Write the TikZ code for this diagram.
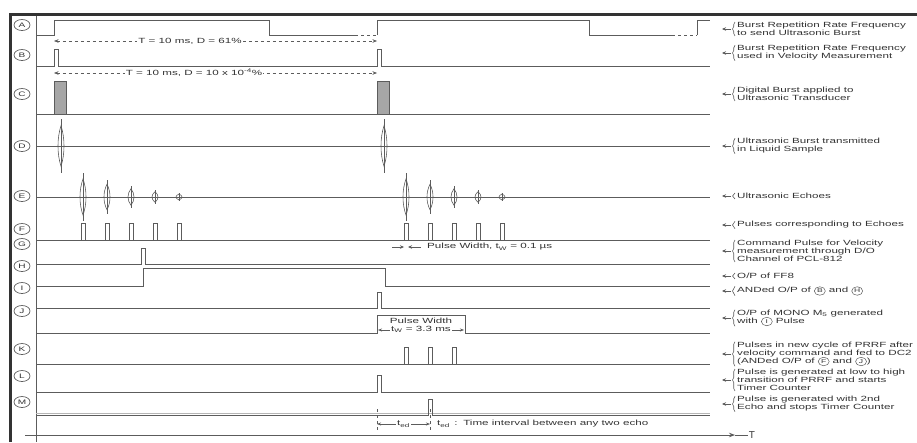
\documentclass[tikz,border=0pt]{standalone}
\usepackage{fontspec}
\setmainfont{Liberation Sans}
\newfontfamily\lblfont[FakeStretch=1.55]{Liberation Sans}
\usetikzlibrary{arrows.meta,decorations.pathreplacing,calc,shapes.geometric}
\definecolor{sigcol}{gray}{0.36}
\definecolor{txtcol}{gray}{0.2}
\tikzset{
  sig/.style={draw=sigcol, line width=0.8pt},
  thinsig/.style={draw=sigcol, line width=0.6pt},
  dimline/.style={draw=sigcol, line width=0.5pt, dashed, {Stealth[length=4.5pt,width=3.5pt]}-{Stealth[length=4.5pt,width=3.5pt]}},
  dimsolid/.style={draw=sigcol, line width=0.5pt, {Stealth[length=4pt,width=3pt]}-{Stealth[length=4pt,width=3pt]}},
  lbl/.style={font=\lblfont\fontsize{7.5}{8}\selectfont, text=txtcol, align=left, inner sep=1pt},
  intext/.style={font=\lblfont\fontsize{7.5}{8}\selectfont, text=txtcol, inner sep=1pt},
  rowlbl/.style={draw=sigcol, ellipse, line width=0.7pt, inner sep=0pt, minimum width=16pt, minimum height=11pt,
     font=\lblfont\fontsize{6.5}{6.5}\selectfont, text=txtcol},
  brc/.style={draw=sigcol, line width=0.6pt, decorate, decoration={brace, amplitude=2.5pt}},
  larr/.style={draw=sigcol, line width=0.6pt, -{Stealth[length=4pt,width=3.5pt]}}
}
\newcommand\cir[1]{\tikz[baseline=(cc.base)]\node[draw=sigcol, ellipse, line width=0.5pt, inner sep=0pt, minimum width=11pt, minimum height=8.5pt, font=\lblfont\fontsize{5.5}{5.5}\selectfont](cc){#1};}
\newcommand\burst[3]{%
  \draw[thinsig, line width=1pt] (#1,#2-#3) -- (#1,#2+#3);
  \draw[thinsig] (#1,#2-0.75*#3) .. controls (#1+4,#2-0.3*#3) and (#1+4,#2+0.3*#3) .. (#1,#2+0.75*#3)
     .. controls (#1-4,#2+0.3*#3) and (#1-4,#2-0.3*#3) .. cycle;
  \draw[thinsig] (#1-4,#2) -- (#1+4,#2);
}
\newcommand\rlabel[3]{%
  \node[lbl, anchor=west] (#1) at (736,#2) {#3};
  \draw[brc] ([xshift=-1pt,yshift=1pt]#1.south west) -- ([xshift=-1pt,yshift=-1pt]#1.north west);
  \draw[larr] ([xshift=-5pt]#1.west) -- ++(-9,0);
}
\begin{document}
\begin{tikzpicture}[x=1pt,y=-1pt]
\useasboundingbox (0,0) rectangle (917,442);
% frame
\draw[line width=3pt, black!80] (10,442) -- (10,14) -- (917,14);
\draw[sigcol, line width=0.6pt] (36,16) -- (36,442);
% row labels
\foreach \l/\yy in {A/25,B/55,C/94,D/146,E/196,F/229,G/244,H/266,I/288,J/311,K/349,L/376,M/402}
  \node[rowlbl] (r\l) at (22,\yy) {\l};
% A
\draw[sig] (36,35) -- (54,35) -- (54,20) -- (269,20) -- (269,35) -- (355,35);
\draw[sig, dashed] (355,35) -- (377,35);
\draw[sig] (377,35) -- (377,20) -- (589,20) -- (589,35) -- (672,35);
\draw[sig, dashed] (672,35) -- (697,35);
\draw[sig] (697,35) -- (697,20) -- (710,20);
\coordinate (d1a) at (54,41); \coordinate (d1b) at (377,41);
\draw[dimline] (d1a) -- (d1b);
\node[intext, fill=white] (t1) at (190,41) {T = 10 ms, D = 61\%};
% B
\draw[sig] (36,66) -- (54,66) -- (54,49) -- (58,49) -- (58,66) -- (377,66) -- (377,49) -- (381,49) -- (381,66) -- (710,66);
\coordinate (d2a) at (54,73); \coordinate (d2b) at (377,73);
\draw[dimline] (d2a) -- (d2b);
\node[intext, fill=white] (t2) at (194,73) {T = 10 ms, D = 10 x 10\textsuperscript{-4}\%};
% C
\draw[sig] (36,114) -- (710,114);
\filldraw[fill=gray!70, draw=sigcol, line width=0.6pt] (54,81) rectangle (66,114);
\filldraw[fill=gray!70, draw=sigcol, line width=0.6pt] (377,81) rectangle (389,114);
% D
\draw[sig] (36,146) -- (710,146);
\burst{61}{146}{27}
\burst{384}{146}{27}
% E
\draw[sig] (36,197) -- (710,197);
\foreach \xx/\hh in {83/24,107/17,131/11,155/7,179/4}{
  \burst{\xx}{197}{\hh}
  \burst{\xx+323}{197}{\hh}
}
% F
\draw[sig] (36,240) -- (710,240);
\foreach \xx in {83,107,131,155,179,406,430,454,478,502}
  \draw[sig] (\xx-2,240) -- (\xx-2,223) -- (\xx+2,223) -- (\xx+2,240);
\coordinate (pwa) at (392,247); \coordinate (pwb) at (421,247);
\draw[larr] (pwa) -- (404,247);
\draw[larr] (pwb) -- (408,247);
\node[intext, anchor=west] (pwt) at (426,247) {Pulse Width, t\textsubscript{W} = 0.1 µs};
% G
\draw[sig] (36,264) -- (141,264) -- (141,248) -- (145,248) -- (145,264) -- (710,264);
% H
\draw[sig] (36,286) -- (143,286) -- (143,268) -- (385,268) -- (385,286) -- (710,286);
% I
\draw[sig] (36,308) -- (377,308) -- (377,292) -- (381,292) -- (381,308) -- (710,308);
% J
\draw[sig] (36,333) -- (377,333) -- (377,315) -- (465,315) -- (465,333) -- (710,333);
\coordinate (jwa) at (378,330); \coordinate (jwb) at (464,330);
\draw[dimsolid] (jwa) -- (jwb);
\node[intext] (jw1) at (421,320.5) {Pulse Width};
\node[intext, fill=white] (jw2) at (421,329.5) {t\textsubscript{W} = 3.3 ms};
% K
\draw[sig] (36,364) -- (404,364);
\foreach \xx in {406,430,454}
  \draw[sig] (\xx-2,364) -- (\xx-2,347) -- (\xx+2,347) -- (\xx+2,364);
\draw[sig] (404,364) -- (710,364);
% L
\draw[sig] (36,392) -- (377,392) -- (377,375) -- (381,375) -- (381,392) -- (710,392);
% M
\draw[sigcol!45, line width=0.6pt] (36,413) -- (710,413);
\draw[sig] (36,415) -- (428,415) -- (428,399) -- (432,399) -- (432,415) -- (710,415);
% t_ed annotation
\coordinate (ea) at (377,424); \coordinate (eb) at (430,424);
\draw[sigcol, line width=0.4pt, dashed] (377,409) -- (377,432);
\draw[sigcol, line width=0.4pt, dashed] (430,409) -- (430,432);
\draw[dimsolid] (ea) -- (eb);
\node[intext, fill=white] (ted) at (403.5,424) {t\textsubscript{ed}};
\node[intext, anchor=west] (tedt) at (436,424) {t\textsubscript{ed} \,:\, Time interval between any two echo};
% time axis
\coordinate (ax0) at (25,435);
\node[intext, font=\fontsize{10}{10}\selectfont] (Tax) at (752,435) {T};
\draw[sig, -{Stealth[length=6pt,width=4.5pt]}] (ax0) -- (735,435);
\draw[sigcol, line width=0.6pt] (735,435) -- (Tax.west);
% right labels
\rlabel{lA}{29}{Burst Repetition Rate Frequency\\to send Ultrasonic Burst}
\rlabel{lB}{53}{Burst Repetition Rate Frequency\\used in Velocity Measurement}
\rlabel{lC}{94}{Digital Burst applied to\\Ultrasonic Transducer}
\rlabel{lD}{146}{Ultrasonic Burst transmitted\\in Liquid Sample}
\rlabel{lE}{196}{Ultrasonic Echoes}
\rlabel{lF}{225}{Pulses corresponding to Echoes}
\rlabel{lG}{251}{Command Pulse for Velocity\\measurement through D/O\\Channel of PCL-812}
\rlabel{lH}{276}{O/P of FF8}
\rlabel{lI}{291}{ANDed O/P of \cir{B} and \cir{H}}
\rlabel{lJ}{318}{O/P of MONO M\textsubscript{5} generated\\with \cir{I} Pulse}
\rlabel{lK}{354}{Pulses in new cycle of PRRF after\\velocity command and fed to DC2\\(ANDed O/P of \cir{F} and \cir{J})}
\rlabel{lL}{380}{Pulse is generated at low to high\\transition of PRRF and starts\\Timer Counter}
\rlabel{lM}{404}{Pulse is generated with 2nd\\Echo and stops Timer Counter}
\end{tikzpicture}
\end{document}
